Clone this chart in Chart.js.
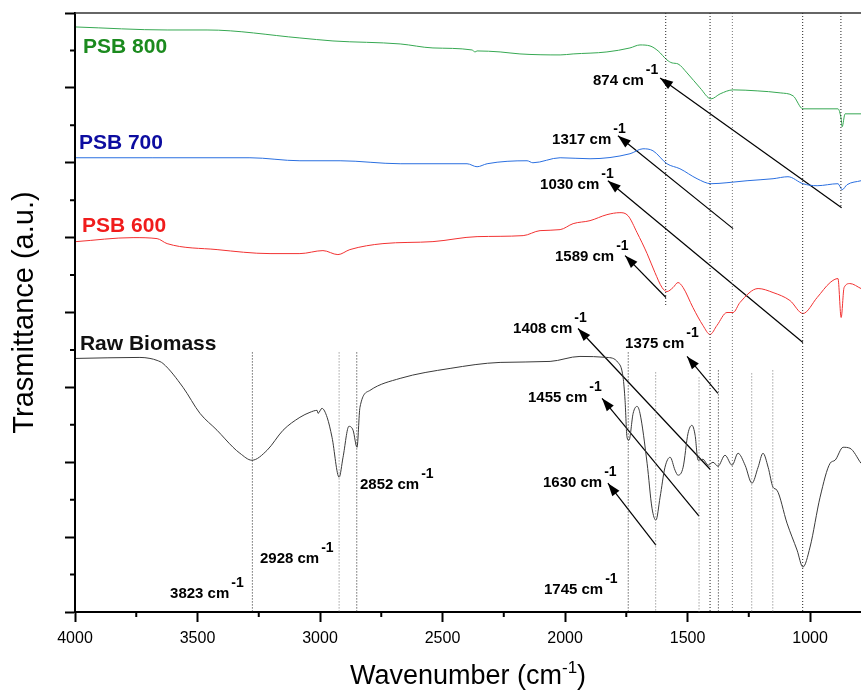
<!DOCTYPE html>
<html>
<head>
  <title>FTIR spectra - PSB</title>
  <script src="https://cdn.jsdelivr.net/npm/chart.js"></script>
  <style>
    body { margin: 0; background: #fff; }
    canvas { display: block; }
  </style>
</head>
<body>
  <canvas id="ftirChart" width="861" height="696"></canvas>

  <script>
    // wavenumbers (cm-1) and stacked transmittance (a.u.)
    const psb800Wn = [3996, 3624, 3461, 3082, 2947, 2673, 2539, 2380, 2367, 2359, 2265, 2184, 2020, 1967, 1829, 1735, 1694, 1653, 1620, 1584, 1563, 1539, 1502, 1449, 1404, 1367, 1314, 1216, 1122, 1069, 1029, 886, 873, 869, 857, 792];
    const psb800T = [586, 583, 583, 575, 572, 569, 565, 563, 561, 562, 561, 559, 558, 559, 561, 565, 568, 567, 562, 553, 550, 549, 540, 525, 514, 519, 523, 522, 520, 517, 504, 504, 494, 486, 499, 499];

    const psb700Wn = [3996, 3682, 3286, 3082, 2918, 2673, 2400, 2359, 2318, 2155, 2131, 2020, 1898, 1735, 1682, 1641, 1584, 1531, 1461, 1404, 1339, 1257, 1151, 1090, 1029, 971, 886, 869, 849, 792];
    const psb700T = [455, 455, 455, 452, 452, 449, 449, 446, 449, 452, 450, 455, 454, 459, 464, 462, 449, 444, 434, 429, 430, 432, 434, 436, 429, 427, 429, 423, 428, 432];

    const psb600Wn = [3996, 3763, 3665, 3624, 3420, 3204, 3082, 2988, 2927, 2878, 2743, 2539, 2359, 2171, 2102, 2020, 1967, 1898, 1829, 1776, 1743, 1706, 1665, 1633, 1604, 1584, 1559, 1539, 1518, 1478, 1437, 1408, 1380, 1339, 1314, 1286, 1212, 1151, 1082, 1029, 971, 918, 886, 873, 861, 837, 792];
    const psb600T = [371, 375, 374, 369, 363, 359, 359, 362, 358, 363, 369, 371, 376, 377, 382, 383, 389, 392, 398, 400, 397, 380, 359, 340, 325, 321, 325, 330, 325, 305, 287, 278, 287, 300, 300, 310, 324, 320, 312, 299, 315, 330, 334, 295, 325, 329, 324];

    const rawWn = [3996, 3735, 3694, 3665, 3641, 3559, 3490, 3420, 3355, 3327, 3278, 3216, 3151, 3082, 3041, 3012, 3008, 2992, 2971, 2951, 2922, 2906, 2882, 2865, 2849, 2837, 2796, 2673, 2469, 2265, 2061, 1939, 1829, 1784, 1763, 1755, 1747, 1739, 1722, 1706, 1694, 1665, 1645, 1629, 1612, 1592, 1571, 1551, 1539, 1518, 1498, 1482, 1469, 1457, 1437, 1416, 1396, 1376, 1347, 1318, 1294, 1265, 1237, 1212, 1192, 1171, 1151, 1135, 1094, 1053, 1029, 1000, 959, 918, 898, 865, 837, 792];
    const rawT = [254, 255, 254, 252, 249, 225, 199, 182, 165, 159, 152, 162, 182, 195, 200, 202, 199, 204, 195, 175, 135, 155, 186, 182, 165, 205, 222, 234, 244, 250, 251, 256, 255, 250, 235, 212, 175, 172, 199, 206, 199, 149, 104, 92, 115, 145, 155, 142, 137, 145, 179, 187, 177, 152, 153, 147, 150, 146, 157, 147, 159, 147, 129, 145, 159, 145, 125, 122, 89, 62, 45, 65, 115, 149, 152, 165, 164, 149];

    const seriesNames = ['PSB 800', 'PSB 700', 'PSB 600', 'Raw Biomass'];
    const nameWn = [3967, 3984, 3971, 3980];
    const nameT = [560, 464, 381, 262];

    const xTicks = [4000, 3500, 3000, 2500, 2000, 1500, 1000];

    // dotted marker lines: wavenumber, top and bottom of each line
    const markWn = [3276, 2922, 2850, 1742, 1630, 1589, 1453, 1408, 1374, 1317, 1238, 1152, 1030, 874];
    const markTop = [260, 260, 260, 260, 240, 600, 235, 600, 242, 600, 239, 242, 600, 600];
    const markBottom = [0, 0, 0, 0, 0, 306, 0, 0, 0, 0, 0, 0, 0, 405];

    // arrows: tail on the band, head next to its label
    const arrowTailWn = [871, 1314, 1029, 1588, 1408, 1376, 1453, 1629];
    const arrowTailT = [405, 384, 270, 315, 143, 219, 96, 67];
    const arrowHeadWn = [1612, 1784, 1825, 1755, 1947, 1502, 1849, 1825];
    const arrowHeadT = [535, 477, 432, 357, 284, 256, 214, 129];

    const peakText = ['874', '1317', '1030', '1589', '1408', '1375', '1455', '1630', '1745', '2852', '2928', '3823'];
    const peakLabelWn = [1886, 2053, 2102, 2041, 2212, 1755, 2151, 2090, 2086, 2837, 3245, 3612];
    const peakLabelT = [528, 469, 424, 352, 279, 264, 210, 125, 18, 123, 49, 14];

    const FONT = '"Liberation Sans", Arial, sans-serif';
    const lineColors = ['#36a852', '#2a6fe0', '#f23232', '#3a3a3a'];
    const nameColors = ['#1b8a1e', '#0c0ca0', '#f01c1c', '#111111'];
    const faintMarks = [2922, 1630, 1453, 1317, 1238, 1152];

    const toPoints = (xs, ys) => xs.map((x, i) => ({ x: x, y: ys[i] }));

    const datasets = [];

    markWn.forEach((w, i) => {
      datasets.push({
        data: [{ x: w, y: markTop[i] }, { x: w, y: markBottom[i] }],
        borderColor: faintMarks.includes(w) ? '#777' : '#222',
        borderWidth: 1,
        borderDash: [1, 2],
        pointRadius: 0
      });
    });

    [[psb800Wn, psb800T], [psb700Wn, psb700T], [psb600Wn, psb600T], [rawWn, rawT]].forEach((s, i) => {
      datasets.push({
        label: seriesNames[i],
        data: toPoints(s[0], s[1]),
        borderColor: lineColors[i],
        borderWidth: 1,
        pointRadius: 0,
        cubicInterpolationMode: 'monotone'
      });
    });

    arrowTailWn.forEach((w, i) => {
      datasets.push({
        arrow: true,
        data: [{ x: w, y: arrowTailT[i] }, { x: arrowHeadWn[i], y: arrowHeadT[i] }],
        borderColor: '#000',
        borderWidth: 1.2,
        pointRadius: 0
      });
    });

    function drawCm(ctx, x, y, text, size) {
      ctx.font = 'bold ' + size + 'px ' + FONT;
      ctx.fillText(text + ' cm', x, y);
      const w = ctx.measureText(text + ' cm').width;
      ctx.font = 'bold ' + (size - 1) + 'px ' + FONT;
      ctx.fillText('-1', x + w + 2, y - 11);
    }

    const decorations = {
      id: 'decorations',
      afterDraw(chart) {
        const { ctx, chartArea, scales: { x, y } } = chart;
        ctx.save();

        // top frame
        ctx.strokeStyle = '#333';
        ctx.lineWidth = 1.5;
        ctx.beginPath();
        ctx.moveTo(chartArea.left, chartArea.top);
        ctx.lineTo(chartArea.right, chartArea.top);
        ctx.stroke();

        // minor ticks
        ctx.strokeStyle = '#000';
        ctx.lineWidth = 2;
        ctx.beginPath();
        for (let v = 3750; v > x.min; v -= 500) {
          const px = x.getPixelForValue(v);
          ctx.moveTo(px, chartArea.bottom);
          ctx.lineTo(px, chartArea.bottom + 5);
        }
        for (let v = 37.5; v < y.max; v += 75) {
          const py = y.getPixelForValue(v);
          ctx.moveTo(chartArea.left, py);
          ctx.lineTo(chartArea.left - 5, py);
        }
        ctx.stroke();

        // arrow heads
        ctx.fillStyle = '#000';
        chart.data.datasets.forEach((ds, i) => {
          if (!ds.arrow) return;
          const pts = chart.getDatasetMeta(i).data;
          const a = pts[0], b = pts[1];
          const ang = Math.atan2(b.y - a.y, b.x - a.x);
          const len = 13, half = 4.5;
          ctx.beginPath();
          ctx.moveTo(b.x, b.y);
          ctx.lineTo(b.x - len * Math.cos(ang) + half * Math.sin(ang), b.y - len * Math.sin(ang) - half * Math.cos(ang));
          ctx.lineTo(b.x - len * Math.cos(ang) - half * Math.sin(ang), b.y - len * Math.sin(ang) + half * Math.cos(ang));
          ctx.closePath();
          ctx.fill();
        });

        // series names
        ctx.textBaseline = 'alphabetic';
        ctx.textAlign = 'left';
        ctx.font = 'bold 21px ' + FONT;
        seriesNames.forEach((n, i) => {
          ctx.fillStyle = nameColors[i];
          ctx.fillText(n, x.getPixelForValue(nameWn[i]), y.getPixelForValue(nameT[i]));
        });

        // band labels
        ctx.fillStyle = '#000';
        peakText.forEach((t, i) => {
          drawCm(ctx, x.getPixelForValue(peakLabelWn[i]), y.getPixelForValue(peakLabelT[i]), t, 15);
        });

        // x axis title with superscript
        ctx.font = '27px ' + FONT;
        const main = 'Wavenumber (cm';
        const wMain = ctx.measureText(main).width;
        const wClose = ctx.measureText(')').width;
        ctx.font = '17px ' + FONT;
        const wSup = ctx.measureText('-1').width;
        const total = wMain + wSup + wClose;
        let tx = (chartArea.left + chartArea.right) / 2 - total / 2;
        const ty = 684;
        ctx.font = '27px ' + FONT;
        ctx.fillText(main, tx, ty);
        ctx.font = '17px ' + FONT;
        ctx.fillText('-1', tx + wMain, ty - 11);
        ctx.font = '27px ' + FONT;
        ctx.fillText(')', tx + wMain + wSup, ty);

        ctx.restore();
      }
    };

    const ctx = document.getElementById('ftirChart').getContext('2d');
    new Chart(ctx, {
      type: 'line',
      data: { datasets: datasets },
      options: {
        responsive: false,
        animation: false,
        layout: { padding: { top: 13, right: 0, left: 0, bottom: 0 } },
        plugins: {
          legend: { display: false },
          tooltip: { enabled: false }
        },
        scales: {
          x: {
            type: 'linear',
            reverse: true,
            min: 792,
            max: 4000,
            afterBuildTicks: s => { s.ticks = xTicks.map(v => ({ value: v })); },
            afterFit: s => { s.height = 84; },
            ticks: {
              font: { size: 16, family: FONT },
              color: '#000',
              padding: 7,
              maxRotation: 0,
              callback: v => String(v)
            },
            grid: { drawOnChartArea: false, tickLength: 10, tickWidth: 2, tickColor: '#000' },
            border: { color: '#000', width: 2 }
          },
          y: {
            min: 0,
            max: 600,
            afterFit: s => { s.width = 75; },
            ticks: { display: false, stepSize: 75 },
            grid: { drawOnChartArea: false, tickLength: 10, tickWidth: 2, tickColor: '#000' },
            border: { color: '#000', width: 2 },
            title: {
              display: true,
              text: 'Trasmittance (a.u.)',
              color: '#000',
              font: { size: 29, family: FONT, lineHeight: 1 },
              padding: { top: 10, bottom: 0 }
            }
          }
        }
      },
      plugins: [decorations]
    });
  </script>
</body>
</html>
